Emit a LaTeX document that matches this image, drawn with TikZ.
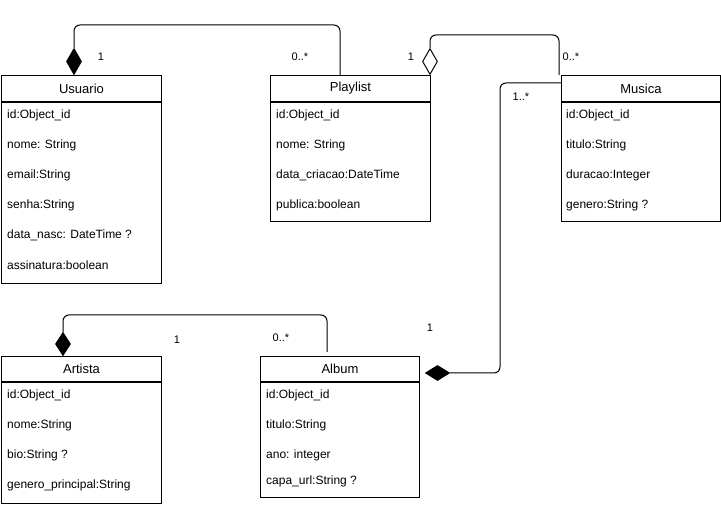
\documentclass[tikz,border=0pt]{standalone}
\usepackage{fontspec}
\setmainfont{Liberation Sans}
\usetikzlibrary{shapes.geometric}
\tikzset{
  classhead/.style={draw, line width=1pt, anchor=north west, minimum width=160pt, minimum height=26pt, inner sep=0pt, font=\fontsize{13}{15}\selectfont},
  classbody/.style={draw, line width=1pt, anchor=north west, minimum width=160pt, inner sep=0pt},
  attr/.style={anchor=west, inner sep=0pt, font=\fontsize{12}{14}\selectfont},
  mult/.style={inner sep=0pt, font=\fontsize{11}{13}\selectfont},
  link/.style={line width=1pt, rounded corners=6pt},
  composition/.style={diamond, draw, fill=black, line width=1pt, inner sep=0pt},
  aggregation/.style={diamond, draw, fill=white, line width=1pt, inner sep=0pt},
}
\begin{document}
\begin{tikzpicture}[x=1pt,y=1pt,yscale=-1,xscale=1]
		\useasboundingbox (0,0) rectangle (721,505);

		% Class Usuario
		\node [classhead] (usuario) at (1,75) {Usuario};
		\node [classbody, minimum height=181pt] (usuariobody) at (usuario.south west) {};
		\node [attr] (u1) at (7,115) {id:Object\_id};
		\node [attr] (u2) at (7,145) {nome: String};
		\node [attr] (u3) at (7,175) {email:String};
		\node [attr] (u4) at (7,205) {senha:String};
		\node [attr] (u5) at (7,235) {data\_nasc: DateTime ?};
		\node [attr] (u6) at (7,265) {assinatura:boolean};

		% Class Playlist
		\node [classhead] (playlist) at (270,75) {Playlist};
		\node [classbody, minimum height=119pt] (playlistbody) at (playlist.south west) {};
		\node [attr] (p1) at (276,115) {id:Object\_id};
		\node [attr] (p2) at (276,145) {nome: String};
		\node [attr] (p3) at (276,175) {data\_criacao:DateTime};
		\node [attr] (p4) at (276,205) {publica:boolean};

		% Class Musica
		\node [classhead, minimum width=159pt] (musica) at (561,75) {Musica};
		\node [classbody, minimum width=159pt, minimum height=119pt] (musicabody) at (musica.south west) {};
		\node [attr] (m1) at (566,115) {id:Object\_id};
		\node [attr] (m2) at (566,145) {titulo:String};
		\node [attr] (m3) at (566,175) {duracao:Integer};
		\node [attr] (m4) at (566,205) {genero:String ?};

		% Class Artista
		\node [classhead, minimum height=25pt] (artista) at (1,356) {Artista};
		\node [classbody, minimum height=121pt] (artistabody) at (artista.south west) {};
		\node [attr] (a1) at (7,395) {id:Object\_id};
		\node [attr] (a2) at (7,425) {nome:String};
		\node [attr] (a3) at (7,455) {bio:String ?};
		\node [attr] (a4) at (7,485) {genero\_principal:String};

		% Class Album
		\node [classhead, minimum width=159pt, minimum height=25pt] (album) at (260,356) {Album};
		\node [classbody, minimum width=159pt, minimum height=115pt] (albumbody) at (album.south west) {};
		\node [attr] (b1) at (266,395) {id:Object\_id};
		\node [attr] (b2) at (266,425) {titulo:String};
		\node [attr] (b3) at (266,455) {ano: integer};
		\node [attr] (b4) at (266,481) {capa\_url:String ?};

		% Diamonds
		\node [composition, minimum width=15pt, minimum height=26pt] (dusuario) at (74,61.5) {};
		\node [aggregation, minimum width=15pt, minimum height=26pt] (dplaylist) at (430,61.5) {};
		\node [composition, minimum width=24pt, minimum height=15pt] (dalbum) at (437.5,373) {};
		\node [composition, minimum width=15pt, minimum height=23pt] (dartista) at (63,344) {};

		% Free ends
		\coordinate (playlisttop) at (340,75);
		\coordinate (musicatop) at (559,75);
		\coordinate (musicaside) at (561,83);
		\coordinate (albumtop) at (327,352);

		%Connectors
		\draw [link] (dusuario.north) -- ++(0,-23) -| (playlisttop);
		\draw [link] (dplaylist.north) -- ++(0,-13) -| (musicatop);
		\draw [link] (musicaside) -- ++(-61,0) |- (dalbum.east);
		\draw [link] (dartista.north) -- ++(0,-17) -| (albumtop);

		% Multiplicities
		\node [mult] (m11) at (101,57) {1};
		\node [mult] (m12) at (300,57) {0..*};
		\node [mult] (m21) at (411,57) {1};
		\node [mult] (m22) at (571,57) {0..*};
		\node [mult] (m31) at (521,97) {1..*};
		\node [mult] (m32) at (430,328) {1};
		\node [mult] (m41) at (177,340) {1};
		\node [mult] (m42) at (281,338) {0..*};

	\end{tikzpicture}
\end{document}
